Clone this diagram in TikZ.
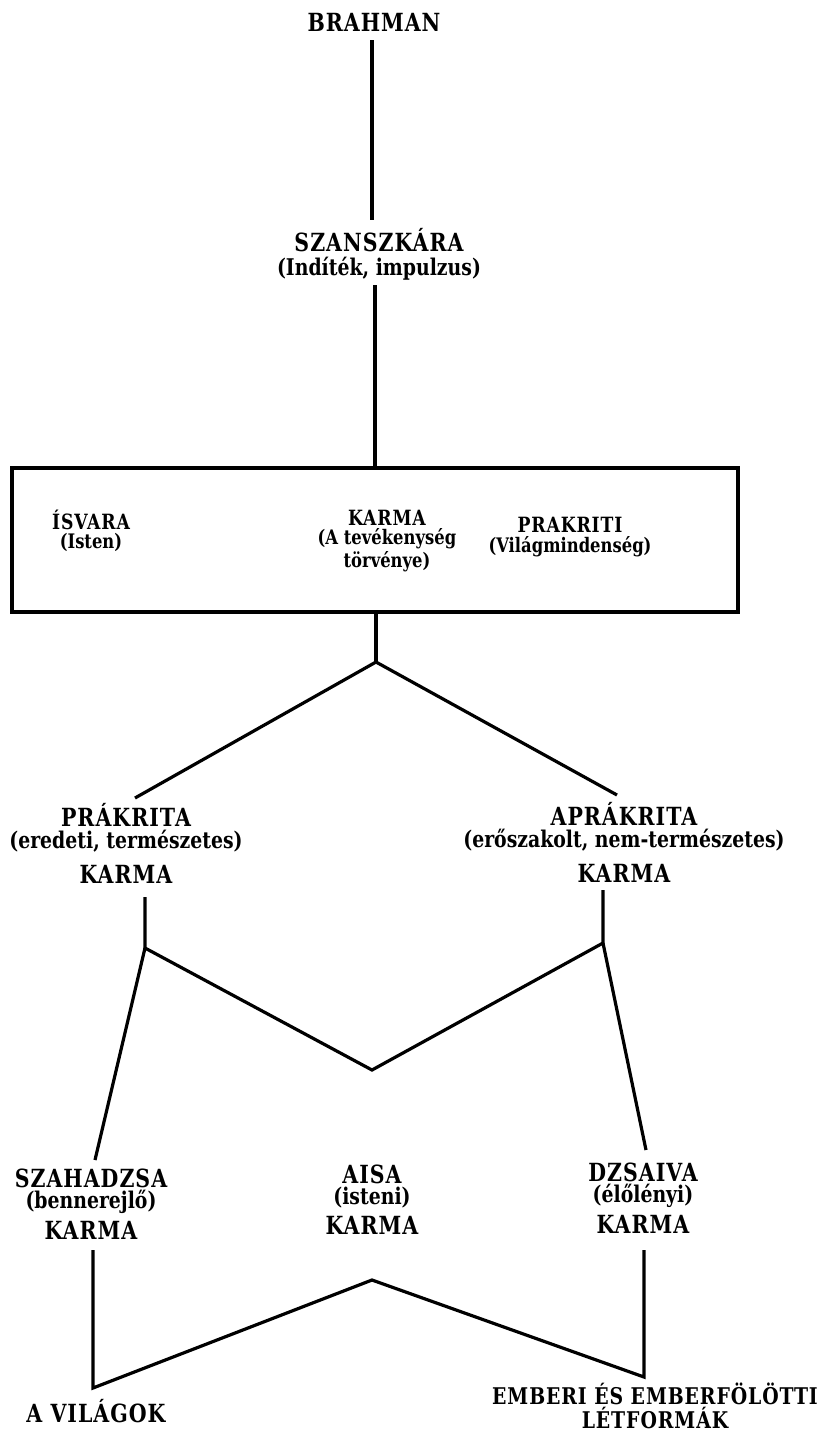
\documentclass[tikz,border=0pt]{standalone}
\usepackage{fontspec}
\setmainfont{DejaVu Serif}[FakeStretch=0.82]
\newfontfamily\capsf{DejaVu Serif}[FakeStretch=0.82, LetterSpace=4]
\newcommand\capA{\capsf\bfseries\fontsize{12.5}{12}\selectfont}
\newcommand\capB{\capsf\bfseries\fontsize{10.5}{9}\selectfont}
\begin{document}
\begin{tikzpicture}[x=0.5pt,y=-0.5pt,
  lbl/.style={inner sep=0pt, align=center, font=\capA},
  stk/.style={inner sep=0pt, align=center, font=\bfseries\fontsize{11.5}{#1}\selectfont},
  bstk/.style={inner sep=0pt, align=center, font=\bfseries\fontsize{10}{#1}\selectfont},
  ln/.style={line width=1.6pt, line join=miter}]
\useasboundingbox (0,0) rectangle (835,1432);
% top
\node[lbl] (brahman) at (374,22) {BRAHMAN};
\node[stk=12pt] (szansz) at (379,254) {{\capA SZANSZKÁRA}\\(Indíték, impulzus)};
\node[draw, line width=1.6pt, minimum width=363pt, minimum height=72pt, inner sep=0pt] (box) at (375,540) {};
\node[bstk=9.6pt] (isvara) at (91,531) {{\capB ÍSVARA}\\(Isten)};
\node[bstk=9.6pt] (karma0) at (387,541) {{\capB KARMA}\\(A tevékenység\\törvénye)};
\node[bstk=9.6pt] (prakriti) at (570,537) {{\capB PRAKRITI}\\(Világmindenség)};
\coordinate (b0) at (372,40);
\coordinate (b0e) at (372,220);
\draw[ln] (b0) -- (b0e);
\coordinate (b1) at (375,285);
\draw[ln] (b1) -- (box.north);
\coordinate (j1) at (376,662);
\draw[ln] (box.south -| j1) -- (j1);
% second level
\node[stk=11pt] (prakrita) at (126,843) {{\capA PRÁKRITA}\\(eredeti, természetes)\\[5.5pt]{\capA KARMA}};
\node[stk=11pt] (aprakrita) at (624,842) {{\capA APRÁKRITA}\\(erőszakolt, nem-természetes)\\[5.5pt]{\capA KARMA}};
\coordinate (pl) at (135,798);
\coordinate (pr) at (617,795);
\draw[ln] (pl) -- (j1) -- (pr);
\coordinate (j2) at (145,948);
\coordinate (j3) at (603,943);
\coordinate (v1) at (372,1070);
\coordinate (t2) at (145,897);
\coordinate (t3) at (603,890);
\draw[ln] (t2) -- (j2) -- (v1) -- (j3) -- (t3);
% third level
\node[stk=10.5pt] (szah) at (91,1204) {{\capA SZAHADZSA}\\(bennerejlő)\\[3pt]{\capA KARMA}};
\node[stk=10.5pt] (aisa) at (372,1200) {{\capA AISA}\\(isteni)\\[3pt]{\capA KARMA}};
\node[stk=10.5pt] (dzs) at (643,1198) {{\capA DZSAIVA}\\(élőlényi)\\[3pt]{\capA KARMA}};
\coordinate (sl) at (95,1160);
\coordinate (sr) at (646,1150);
\draw[ln] (j2) -- (sl);
\draw[ln] (j3) -- (sr);
% bottom
\coordinate (j4) at (93,1388);
\coordinate (ap) at (372,1280);
\coordinate (j5) at (644,1377);
\coordinate (t4) at (93,1250);
\coordinate (t5) at (644,1250);
\draw[ln] (t4) -- (j4) -- (ap) -- (j5) -- (t5);
\node[lbl] (vilag) at (96,1411) {A VILÁGOK};
\node[inner sep=0pt, align=center, font=\capsf\bfseries\fontsize{11.5}{9.5}\selectfont] (emberi) at (655,1406) {EMBERI ÉS EMBERFÖLÖTTI\\LÉTFORMÁK};
\end{tikzpicture}
\end{document}
